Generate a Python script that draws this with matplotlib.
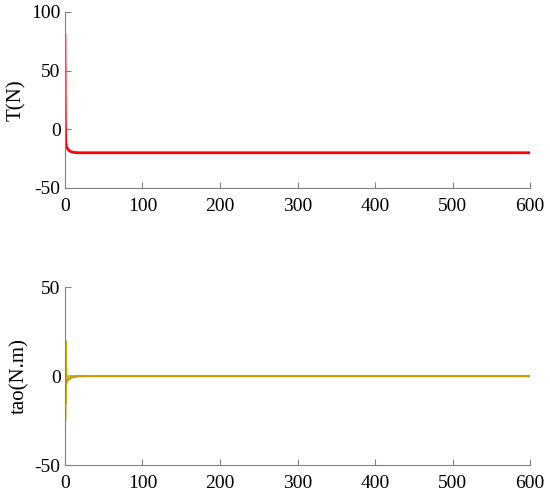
import matplotlib
matplotlib.use("Agg")
import matplotlib.pyplot as plt

# Top: thrust T(N)
t_T = [0, 0.3, 0.6, 1.0, 1.5, 2.0, 3.0, 4.0, 5.0, 6.0, 8.0, 10.0, 13.0, 16.0, 20.0, 30.0, 600.0]
T_vals = [80, 40, 5, -10, -13, -14.5, -16, -17, -17.8, -18.4, -19.1, -19.5, -19.8, -19.9, -20, -20, -20]

# Bottom: torque tao(N.m) - oscillating component
t_tao1 = [0, 0.4, 0.8, 1.2, 1.6, 2.0, 3.0, 5.0, 600.0]
tao1 = [30, -25, 20, -15, 5, -3, -1, 0, 0]
# smooth converging component
t_tao2 = [0.5, 1.0, 1.5, 2.0, 3.0, 4.0, 6.0, 8.0, 10.0, 13.0, 16.0, 20.0, 25.0, 600.0]
tao2 = [-6, -5, -4.2, -3.6, -2.8, -2.2, -1.5, -1.0, -0.7, -0.4, -0.2, -0.05, 0, 0]

xticks = [0, 100, 200, 300, 400, 500, 600]

plt.rcParams['font.family'] = ['Liberation Serif', 'DejaVu Serif']
plt.rcParams['axes.unicode_minus'] = False
fig = plt.figure(figsize=(5.5, 4.96), dpi=100)

ax1 = fig.add_axes([0.118, 0.621, 0.846, 0.355])
ax2 = fig.add_axes([0.118, 0.0625, 0.846, 0.3585])

ax1.plot(t_T, T_vals, color='#FF0000', lw=2)
ax2.plot(t_tao1, tao1, color='#C8B400', lw=1.5)
ax2.plot(t_tao2, tao2, color='#C8960A', lw=1.5)
ax2.plot([25, 600], [0, 0], color='#C8A000', lw=1.5)

for ax, ylim, yticks, ylabel in [(ax1, (-50, 100), [-50, 0, 50, 100], 'T(N)'),
                                 (ax2, (-50, 50), [-50, 0, 50], 'tao(N.m)')]:
    ax.set_xlim(0, 600)
    ax.set_ylim(*ylim)
    ax.set_xticks(xticks)
    ax.set_yticks(yticks)
    ax.set_ylabel(ylabel, fontsize=15, labelpad=4)
    for s in ['top', 'right']:
        ax.spines[s].set_visible(False)
    for s in ['left', 'bottom']:
        ax.spines[s].set_color('#808080')
        ax.spines[s].set_linewidth(0.8)
    ax.tick_params(direction='in', length=4, color='#808080', labelsize=14)
    ax.tick_params(axis='x', pad=7)
    ax.tick_params(axis='y', pad=3)

fig.savefig('out.png', dpi=100)
